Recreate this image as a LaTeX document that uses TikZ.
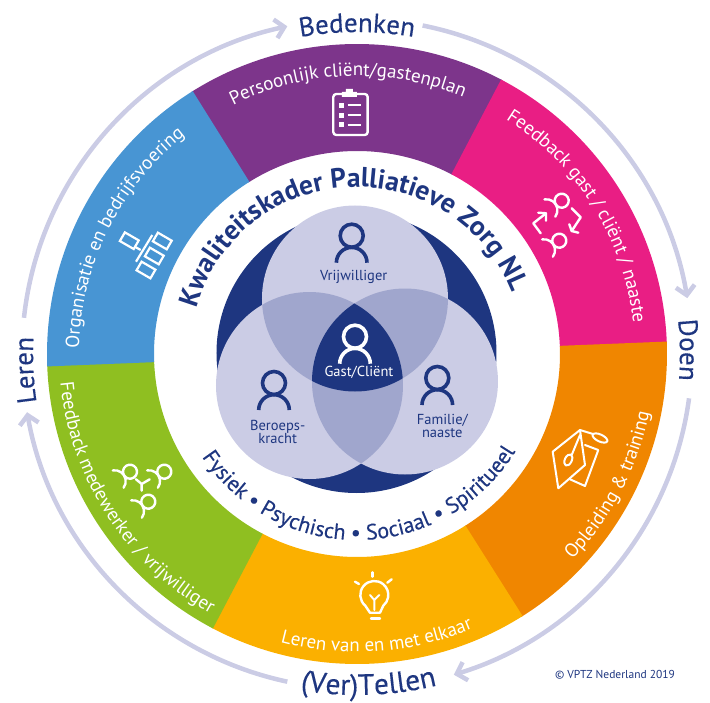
\documentclass[tikz,border=0pt]{standalone}
\usepackage{fontspec}
\setmainfont{PT Sans}
\newfontfamily\halfvet[FakeBold=0.25]{PT Sans}
\usepackage{xcolor}
\usepackage{tikz}
\usetikzlibrary{arrows.meta,decorations.text}
\definecolor{navy}{HTML}{1E3680}
\definecolor{lila}{HTML}{CBCCE5}
\definecolor{midlila}{HTML}{A0A6CD}
\definecolor{paars}{HTML}{7D358B}
\definecolor{roze}{HTML}{E91E84}
\definecolor{oranje}{HTML}{F08600}
\definecolor{geel}{HTML}{FBB000}
\definecolor{groen}{HTML}{8FBF21}
\definecolor{blauw}{HTML}{4895D3}
\tikzset{
	kring/.style={line width=4.5pt,color=lila,-{Straight Barb[length=9pt,width=19pt,line width=4.5pt]}},
	icoon/.style={draw=white,line width=2.4pt,line cap=round,line join=round},
	netbox/.style={draw=white,line width=2.2pt,minimum width=16pt,minimum height=10pt,inner sep=0pt,rotate=-30},
	venn/.style={font=\fontsize{14.5}{15}\selectfont,color=navy,align=center}
}
% text along an arc: format, radius, start angle, end angle, text
\newcommand{\boogtekst}[5]{
	\path[decorate,decoration={text along path,text align=center,text={|#1|#5}}]
		(#3:#2) arc[start angle=#3,end angle=#4,radius=#2];
}
\newcommand{\segment}[2]{
	\fill[#1] (#2:203) -- (#2:310) arc[start angle=#2,end angle=#2+60.3,radius=310] -- (#2+60.3:203) arc[start angle=#2+60.3,end angle=#2,radius=203] -- cycle;
}
\newcommand{\persoon}[3]{
	\begin{scope}[shift={(#1,#2)}]
		\draw[#3,line width=3.6pt] (0,0) circle[radius=11.5];
		\draw[#3,line width=3.6pt] (-15.3,-27) arc[start angle=180,end angle=0,radius=15.3];
	\end{scope}
}
\newcommand{\poppetje}[2]{
	\begin{scope}[shift={(#1,#2)},rotate=-58]
		\draw[icoon] (0,0) circle[radius=7];
		\draw[icoon] (0,-18)+(158:11) arc[start angle=158,end angle=22,radius=11];
	\end{scope}
}
\newcommand{\sw}{\color{white}\fontsize{19}{21}\selectfont}
\newcommand{\sk}{\color{navy}\halfvet\fontsize{27}{29}\selectfont}
\begin{document}
\begin{tikzpicture}[x=1pt,y=1pt]
		\useasboundingbox (-357,-348) rectangle (353,354);
		%
		\segment{paars}{62}
		\segment{roze}{2}
		\segment{oranje}{-58}
		\segment{geel}{-118}
		\segment{groen}{182}
		\segment{blauw}{122}
		%
		\draw[kring] (78.7:335) arc[start angle=78.7,end angle=9.6,radius=335];
		\draw[kring] (-7.6:335) arc[start angle=-7.6,end angle=-73.2,radius=335];
		\draw[kring] (258:335) arc[start angle=258,end angle=190,radius=335];
		\draw[kring] (173.8:335) arc[start angle=173.8,end angle=102,radius=335];
		%
		\boogtekst{\sk}{322}{130}{50}{Bedenken}
		\boogtekst{\sk}{323}{40.7}{-39.3}{Doen}
		\boogtekst{\color{navy}\halfvet\fontsize{29.5}{31}\selectfont}{341}{-130}{-46}{(Ver)Tellen}
		\boogtekst{\sk}{324}{222.8}{142.8}{Leren}
		%
		\boogtekst{\sw}{278}{132}{52}{Persoonlijk cliënt/gastenplan}
		\boogtekst{\sw}{278}{72}{-8}{Feedback gast / cliënt / naaste}
		\boogtekst{\sw}{278}{193.5}{113.5}{Organisatie en bedrijfsvoering}
		\boogtekst{\sw}{298}{173}{253}{Feedback medewerker / vrijwilliger}
		\boogtekst{\sw}{298}{-126}{-46}{Leren van en met elkaar}
		\boogtekst{\sw}{298}{-67.5}{12.5}{Opleiding {\&} training}
		%
		\fill[navy] (-0.5,1) circle[radius=140];
		\fill[lila] (-2,55.5) circle[radius=93];
		\fill[lila] (-47.5,-31.5) circle[radius=93.5];
		\fill[lila] (48,-27.5) circle[radius=93];
		\begin{scope}
			\clip (-2,55.5) circle[radius=93];
			\fill[midlila] (-47.5,-31.5) circle[radius=93.5];
			\fill[midlila] (48,-27.5) circle[radius=93];
		\end{scope}
		\begin{scope}
			\clip (-47.5,-31.5) circle[radius=93.5];
			\fill[midlila] (48,-27.5) circle[radius=93];
			\clip (48,-27.5) circle[radius=93];
			\fill[navy] (-2,55.5) circle[radius=93];
		\end{scope}
		%
		\boogtekst{\color{navy}\bfseries\fontsize{27.5}{30}\selectfont}{167}{178}{8}{Kwaliteitskader Palliatieve Zorg NL}
		\boogtekst{\color{navy}\halfvet\fontsize{22}{24}\selectfont}{186}{196}{346}{Fysiek • Psychisch • Sociaal • Spiritueel}
		%
		\persoon{-5.3}{118.3}{navy}
		\persoon{-2}{17.3}{white}
		\persoon{-83}{-29}{navy}
		\persoon{80.3}{-24}{navy}
		\node[venn] (vrijwilliger) at (-3.3,77.3) {Vrijwilliger};
		\node[venn,color=white] (gast) at (2,-18) {Gast/Cliënt};
		\node[venn] (beroeps) at (-79.3,-77.7) {Beroeps-\\[-2pt]kracht};
		\node[venn] (familie) at (85.3,-72) {Familie/\\[-2pt]naaste};
		% klembord
		\draw[icoon,rounded corners=3pt] (-23.7,260) rectangle (10.7,219);
		\fill[white] (-15,257) rectangle (0,262) (-11,262) rectangle (-4,265);
		\foreach \ypos in {248.7,238.7,229}{
			\fill[white] (-17.5,\ypos-2.5) rectangle (-12.5,\ypos+2.5);
			\draw[white,line width=1.6pt] (-9.3,\ypos) -- (4,\ypos);
		}
		% netwerk
		\node[netbox] (box1) at (-227.7,113.3) {};
		\node[netbox] (box2) at (-194.7,113) {};
		\node[netbox] (box3) at (-202.7,98) {};
		\node[netbox] (box4) at (-211,84) {};
		\draw[white,line width=2.2pt] (-204.7,119) -- (-221,92.3);
		\draw[white,line width=2.2pt] (box1) ++(5.5,-6) -- (-216.3,104);
		% feedback gast
		\poppetje{204.7}{153.3}
		\poppetje{202.3}{113.3}
		\draw[icoon] (214.7,145.7) -- (223.7,136.7) -- (214.7,123);
		\draw[icoon] (221.3,121.3) -- (214.7,123) -- (212.3,129.7);
		\draw[icoon] (183.7,120.7) -- (176.3,130.7) -- (189,140.7);
		\draw[icoon] (181.3,141.3) -- (189,140.7) -- (189,133.3);
		% feedback medewerker
		\poppetje{-227}{-117.7}
		\poppetje{-192.7}{-117.7}
		\poppetje{-208.7}{-147.7}
		\draw[icoon] (-221,-125.3) -- (-215.3,-130) -- (-207.3,-125.3) (-215.3,-130) -- (-215.3,-136.7);
		% lamp
		\draw[icoon] (13,-258.7) -- (8.3,-251.7) arc[start angle=230,end angle=-50,radius=14] -- (23,-258.7) -- cycle;
		\draw[icoon] (14,-264.3) -- (23,-264.3);
		\draw[icoon] (15.7,-218.3) -- (15.7,-222.7);
		\draw[icoon] (-2,-227.7) -- (2,-230);
		\draw[icoon] (34.7,-225.3) -- (30.3,-228.7);
		\draw[icoon,line width=2pt] (17.3,-256) -- (17.3,-246) -- (13,-241) (17.3,-246) -- (22.3,-241);
		% baret
		\draw[icoon,line width=2pt] (223,-76) -- (195.7,-97.7) -- (201.3,-134.3) -- (228,-111) -- cycle;
		\draw[icoon,line width=2pt] (228,-91) -- (241.3,-96) -- (228,-132) -- (213,-125.3);
		\draw[icoon,line width=2pt] (223,-76) -- (236,-80);
		\draw[icoon,line width=2pt,rotate around={-25:(243,-84)}] (243,-84) ellipse[x radius=8,y radius=3.5];
		\draw[icoon,line width=2pt] (223,-81) -- (214.7,-101);
		\draw[icoon,line width=2pt,rotate around={65:(211.3,-106)}] (211.3,-106) ellipse[x radius=6,y radius=3.5];
		%
		\node[font=\fontsize{11.5}{12}\selectfont,color=navy] (copy) at (258,-321) {© VPTZ Nederland 2019};
		\end{tikzpicture}
\end{document}
